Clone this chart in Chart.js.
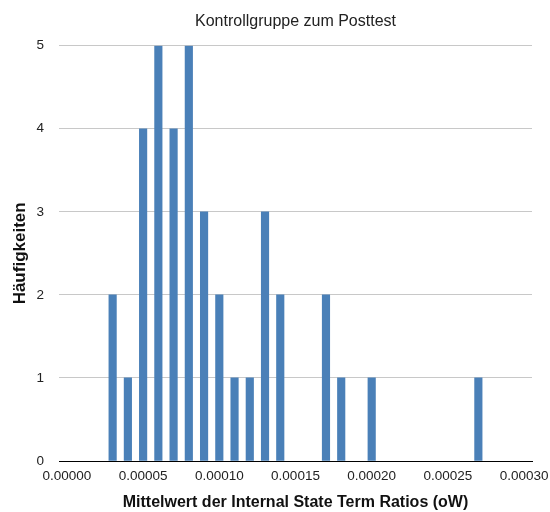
<!DOCTYPE html>
<html>
<head>
<meta charset="utf-8">
<script src="https://cdn.jsdelivr.net/npm/chart.js@4"></script>
<style>
html,body{margin:0;padding:0;background:#fff;}
#wrap{width:550px;height:512px;position:relative;}
</style>
</head>
<body>
<div id="wrap"><canvas id="c" width="550" height="512"></canvas></div>
<script>
const binValues = [0.00003, 0.00004, 0.00005, 0.00006, 0.00007, 0.00008, 0.00009, 0.00010, 0.00011, 0.00012, 0.00013, 0.00014, 0.00017, 0.00018, 0.00020, 0.00027];
const counts    = [2, 1, 4, 5, 4, 5, 3, 2, 1, 1, 3, 2, 2, 1, 1, 1];
const xTicks = [0, 0.00005, 0.00010, 0.00015, 0.00020, 0.00025, 0.00030];
const yTicks = [0, 1, 2, 3, 4, 5];
const titleText = "Kontrollgruppe zum Posttest";
const xTitle = "Mittelwert der Internal State Term Ratios (oW)";
const yTitle = "Häufigkeiten";

const FONT = "'Liberation Sans', Arial, Helvetica, sans-serif";
const points = binValues.map((v, i) => ({x: v, y: counts[i]}));

new Chart(document.getElementById('c'), {
  type: 'bar',
  data: {
    datasets: [{
      data: points,
      backgroundColor: '#4a80b8',
      borderWidth: 0,
      barThickness: 7.5
    }]
  },
  options: {
    responsive: false,
    animation: false,
    devicePixelRatio: 1,
    layout: { padding: { top: 0, right: 18, left: 0, bottom: 0 } },
    plugins: {
      legend: { display: false },
      tooltip: { enabled: false },
      title: {
        display: true,
        text: titleText,
        fullSize: false,
        color: '#222',
        font: { family: FONT, size: 16, weight: 'normal' },
        padding: { top: 11.5, bottom: 15 }
      }
    },
    scales: {
      x: {
        type: 'linear',
        offset: false,
        min: -0.0000052,
        max: 0.0003052,
        afterBuildTicks: (s) => { s.ticks = xTicks.map(v => ({value: v})); },
        afterFit: (s) => { s.height = 51; s.paddingRight = 0; s.paddingLeft = 0; },
        grid: { display: false, drawTicks: false, offset: false },
        border: { display: true, color: '#000', width: 1 },
        ticks: {
          color: '#222',
          padding: 7,
          maxRotation: 0,
          autoSkip: false,
          font: { family: FONT, size: 13.5 },
          callback: (v) => Number(v).toFixed(5)
        },
        title: {
          display: true,
          text: xTitle,
          color: '#111',
          font: { family: FONT, size: 16, weight: 'bold' },
          padding: { top: 2, bottom: 0 }
        }
      },
      y: {
        min: 0,
        max: 5,
        afterBuildTicks: (s) => { s.ticks = yTicks.map(v => ({value: v})); },
        afterFit: (s) => { s.width = 59; },
        grid: { color: '#c8c8c8', drawTicks: false, lineWidth: 1 },
        border: { display: false },
        ticks: {
          color: '#222',
          padding: 15,
          font: { family: FONT, size: 13.5 }
        },
        title: {
          display: true,
          text: yTitle,
          color: '#111',
          font: { family: FONT, size: 17, weight: 'bold' },
          padding: { top: 10.5, bottom: 0 }
        }
      }
    }
  }
});
</script>
</body>
</html>
